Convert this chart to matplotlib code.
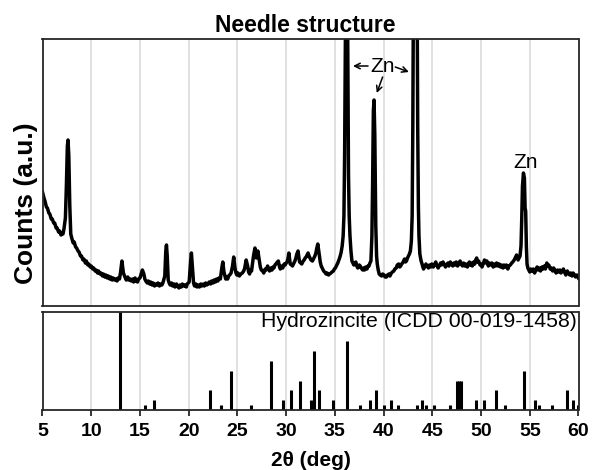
#!/usr/bin/env python3
"""plot.py -- XRD pattern of the needle structure with hydrozincite reference sticks."""

import matplotlib
matplotlib.use("Agg")
import matplotlib.pyplot as plt

plt.rcParams["font.family"] = ["Liberation Sans", "DejaVu Sans"]

# measured pattern (2theta in deg, counts in arbitrary units)
two_theta = [
    5.0, 5.15, 5.25, 5.4, 5.5, 5.65, 5.75, 5.9, 6.0, 6.15,
    6.25, 6.4, 6.5, 6.65, 6.75, 6.9, 7.0, 7.1, 7.2, 7.35,
    7.45, 7.55, 7.62, 7.7, 7.8, 7.9, 8.0, 8.15, 8.25, 8.4,
    8.5, 8.65, 8.75, 8.9, 9.0, 9.15, 9.25, 9.4, 9.5, 9.65,
    9.75, 9.9, 10.0, 10.15, 10.25, 10.4, 10.5, 10.65, 10.75, 10.9,
    11.0, 11.15, 11.25, 11.4, 11.5, 11.65, 11.75, 11.9, 12.0, 12.15,
    12.25, 12.4, 12.5, 12.65, 12.75, 12.9, 13.0, 13.15, 13.3, 13.5,
    13.6, 13.75, 13.85, 14.0, 14.1, 14.25, 14.35, 14.5, 14.6, 14.75,
    14.85, 15.0, 15.25, 15.4, 15.5, 15.6, 15.75, 15.85, 16.0, 16.1,
    16.25, 16.35, 16.5, 16.6, 16.75, 16.85, 17.0, 17.1, 17.25, 17.35,
    17.55, 17.65, 17.72, 17.8, 17.9, 18.0, 18.1, 18.25, 18.35, 18.5,
    18.6, 18.75, 18.85, 19.0, 19.1, 19.25, 19.35, 19.5, 19.6, 19.75,
    19.85, 20.05, 20.2, 20.28, 20.38, 20.5, 20.6, 20.75, 20.85, 21.0,
    21.1, 21.25, 21.35, 21.5, 21.6, 21.75, 21.85, 22.0, 22.1, 22.25,
    22.35, 22.5, 22.6, 22.75, 22.85, 23.0, 23.1, 23.25, 23.4, 23.5,
    23.62, 23.8, 23.9, 24.0, 24.1, 24.2, 24.35, 24.5, 24.62, 24.75,
    24.85, 24.95, 25.05, 25.2, 25.35, 25.5, 25.65, 25.75, 25.9, 26.05,
    26.15, 26.25, 26.35, 26.45, 26.65, 26.8, 26.95, 27.1, 27.25, 27.35,
    27.45, 27.6, 27.7, 27.85, 27.95, 28.1, 28.2, 28.3, 28.45, 28.55,
    28.65, 28.75, 28.85, 28.95, 29.1, 29.2, 29.3, 29.4, 29.55, 29.65,
    29.8, 29.9, 30.0, 30.1, 30.2, 30.28, 30.36, 30.42, 30.55, 30.65,
    30.8, 30.9, 31.0, 31.1, 31.22, 31.3, 31.38, 31.5, 31.6, 31.75,
    31.85, 31.95, 32.05, 32.15, 32.25, 32.35, 32.45, 32.55, 32.7, 32.85,
    32.95, 33.05, 33.15, 33.25, 33.33, 33.4, 33.5, 33.6, 33.7, 33.85,
    33.95, 34.1, 34.2, 34.35, 34.45, 34.6, 34.7, 34.85, 34.95, 35.05,
    35.15, 35.3, 35.45, 35.55, 35.65, 35.75, 35.85, 35.93, 36.0, 36.1,
    36.2, 36.3, 36.4, 36.47, 36.55, 36.65, 36.75, 36.85, 36.95, 37.05,
    37.15, 37.25, 37.35, 37.5, 37.6, 37.7, 37.85, 37.95, 38.05, 38.15,
    38.3, 38.4, 38.5, 38.6, 38.7, 38.8, 38.87, 38.95, 39.02, 39.1,
    39.2, 39.28, 39.35, 39.45, 39.55, 39.65, 39.8, 39.9, 40.05, 40.15,
    40.3, 40.4, 40.55, 40.65, 40.8, 40.9, 41.05, 41.15, 41.3, 41.4,
    41.55, 41.65, 41.75, 41.85, 41.95, 42.05, 42.15, 42.25, 42.35, 42.45,
    42.55, 42.65, 42.75, 42.85, 42.93, 43.0, 43.1, 43.2, 43.3, 43.4,
    43.5, 43.57, 43.63, 43.72, 43.85, 43.95, 44.0, 44.1, 44.2, 44.35,
    44.45, 44.6, 44.7, 44.85, 44.95, 45.1, 45.2, 45.35, 45.45, 45.6,
    45.7, 45.85, 45.95, 46.1, 46.2, 46.35, 46.45, 46.6, 46.7, 46.85,
    46.95, 47.1, 47.2, 47.35, 47.45, 47.6, 47.7, 47.85, 47.95, 48.1,
    48.2, 48.35, 48.45, 48.6, 48.7, 48.8, 48.9, 49.0, 49.1, 49.25,
    49.35, 49.45, 49.55, 49.65, 49.75, 49.9, 50.0, 50.1, 50.25, 50.35,
    50.5, 50.6, 50.75, 50.85, 51.0, 51.1, 51.25, 51.35, 51.5, 51.6,
    51.75, 51.85, 52.0, 52.1, 52.25, 52.35, 52.5, 52.6, 52.75, 52.85,
    53.0, 53.15, 53.25, 53.4, 53.5, 53.65, 53.8, 53.9, 54.0, 54.1,
    54.17, 54.25, 54.35, 54.45, 54.52, 54.58, 54.65, 54.72, 54.8, 54.9,
    55.0, 55.1, 55.25, 55.35, 55.5, 55.6, 55.75, 55.85, 56.0, 56.1,
    56.25, 56.35, 56.5, 56.6, 56.75, 56.85, 56.95, 57.1, 57.2, 57.35,
    57.45, 57.6, 57.7, 57.85, 57.95, 58.1, 58.2, 58.35, 58.45, 58.6,
    58.7, 58.85, 58.95, 59.1, 59.2, 59.35, 59.45, 59.6, 59.7, 59.85,
    60.0,
]
counts = [
    114, 108, 105, 99, 98, 93, 92, 87, 87, 83,
    83, 78, 78, 74, 75, 71, 73, 72, 77, 88,
    120, 160, 166, 150, 100, 72, 68, 63, 64, 59,
    58, 55, 54, 50, 50, 46, 47, 43, 45, 41,
    42, 39, 40, 37, 38, 35, 36, 33, 35, 32,
    33, 30, 32, 29, 31, 28, 30, 27, 29, 26,
    28, 26, 27, 25, 28, 27, 33, 45, 33, 28,
    26, 29, 26, 27, 25, 27, 24, 28, 25, 24,
    27, 28, 36, 32, 27, 25, 23, 25, 22, 24,
    21, 23, 20, 22, 21, 23, 20, 22, 21, 23,
    30, 55, 61, 50, 26, 23, 21, 23, 20, 22,
    19, 22, 20, 18, 21, 19, 22, 20, 21, 19,
    22, 24, 45, 53, 40, 23, 20, 22, 19, 21,
    19, 22, 20, 22, 20, 23, 21, 22, 24, 22,
    25, 23, 26, 24, 27, 25, 28, 27, 38, 44,
    34, 27, 29, 27, 30, 31, 33, 40, 49, 38,
    33, 31, 33, 30, 32, 33, 35, 38, 46, 40,
    34, 32, 36, 35, 50, 58, 48, 55, 45, 39,
    36, 35, 33, 37, 36, 40, 37, 35, 38, 36,
    39, 38, 41, 42, 44, 45, 40, 37, 40, 38,
    42, 41, 43, 44, 48, 53, 47, 42, 41, 40,
    43, 45, 48, 52, 55, 49, 44, 43, 42, 45,
    46, 48, 49, 51, 53, 50, 48, 46, 45, 48,
    50, 53, 58, 62, 56, 50, 44, 40, 38, 35,
    34, 32, 33, 31, 32, 33, 34, 35, 37, 38,
    40, 43, 47, 50, 54, 60, 70, 90, 150, 300,
    420, 300, 130, 90, 70, 55, 45, 43, 41, 43,
    44, 40, 38, 41, 40, 38, 36, 38, 36, 39,
    37, 40, 40, 43, 45, 70, 120, 195, 206, 170,
    80, 50, 42, 36, 32, 31, 30, 32, 31, 29,
    29, 31, 32, 30, 33, 34, 35, 37, 38, 41,
    42, 39, 40, 42, 43, 45, 47, 44, 45, 48,
    50, 52, 55, 65, 90, 180, 400, 650, 650, 400,
    180, 100, 70, 52, 45, 42, 40, 37, 39, 42,
    40, 38, 41, 39, 42, 39, 41, 44, 41, 38,
    40, 43, 41, 44, 42, 39, 41, 43, 40, 44,
    42, 40, 43, 41, 44, 40, 42, 45, 42, 40,
    43, 40, 42, 39, 42, 44, 41, 43, 40, 44,
    42, 46, 48, 44, 45, 41, 42, 39, 43, 46,
    43, 45, 40, 43, 41, 43, 39, 42, 40, 43,
    40, 42, 39, 41, 38, 41, 39, 41, 37, 40,
    41, 43, 44, 46, 48, 51, 46, 48, 50, 60,
    85, 120, 133, 128, 98, 95, 60, 42, 38, 36,
    34, 37, 35, 37, 33, 36, 39, 36, 38, 35,
    39, 37, 40, 37, 43, 40, 41, 37, 38, 35,
    38, 35, 33, 36, 34, 36, 33, 35, 37, 33,
    31, 35, 33, 31, 33, 30, 33, 31, 29, 31,
    28,
]
assert len(two_theta) == len(counts)

# hydrozincite reference (ICDD 00-019-1458), relative intensity
ref_pos = [
    13.0, 15.5, 16.4, 22.2, 23.3, 24.3, 26.4, 28.4, 29.7, 30.5,
    31.4, 32.6, 32.9, 33.35, 34.8, 36.27, 37.6, 38.6, 39.2, 40.0,
    40.8, 41.5, 43.4, 43.9, 44.4, 45.2, 46.8, 47.5, 47.7, 47.9,
    49.5, 50.35, 51.55, 52.5, 54.4, 55.55, 55.95, 57.3, 58.8, 59.4,
    59.9,
]
ref_int = [
    100, 5, 10, 20, 5, 40, 5, 50, 10, 20,
    30, 10, 60, 20, 10, 70, 5, 10, 20, 5,
    10, 5, 5, 10, 5, 5, 5, 30, 30, 30,
    10, 10, 20, 5, 40, 10, 5, 5, 20, 10,
    5,
]

x_ticks = [5, 10, 15, 20, 25, 30, 35, 40, 45, 50, 55, 60]

C_LINE = "black"
C_GRID = "#d9d9d9"
C_SPINE = "#262626"

W, H = 593, 470
fig = plt.figure(figsize=(W / 100, H / 100), dpi=100)
ax_top = fig.add_axes([42.5 / W, 1 - 306 / H, 536 / W, 267 / H])
ax_bot = fig.add_axes([42.5 / W, 1 - 410 / H, 536 / W, 98 / H])

for ax in (ax_top, ax_bot):
    ax.set_xlim(5, 60)
    ax.set_xticks(x_ticks)
    for xg in x_ticks[1:-1]:
        ax.axvline(xg, color=C_GRID, lw=1.1, zorder=0)
    ax.set_yticks([])
    for sp in ax.spines.values():
        sp.set_color(C_SPINE)
        sp.set_linewidth(1.3)

# top panel: pattern
ax_top.plot(two_theta, counts, color=C_LINE, lw=2.5, solid_joinstyle="round")
ax_top.set_ylim(0, 267)
ax_top.tick_params(axis="x", length=0, labelbottom=False)

arrow = dict(arrowstyle="->", color=C_LINE, lw=1.1, shrinkA=0, shrinkB=0)
ax_top.text(39.94, 234, "Zn", ha="center", va="baseline", fontsize=15)
ax_top.annotate("", xy=(36.86, 240), xytext=(38.4, 240), arrowprops=arrow)
ax_top.annotate("", xy=(42.6, 234), xytext=(41.2, 239), arrowprops=arrow)
ax_top.annotate("", xy=(39.3, 213), xytext=(39.9, 229), arrowprops=arrow)
ax_top.text(54.55, 138, "Zn", ha="center", va="baseline", fontsize=15)

# bottom panel: reference sticks
ax_bot.vlines(ref_pos, 0, ref_int, color=C_LINE, lw=2.2)
ax_bot.set_ylim(0, 100)
ax_bot.tick_params(axis="x", direction="out", length=4, width=1.3,
                   color=C_SPINE, labelsize=14, pad=5)
for lbl in ax_bot.get_xticklabels():
    lbl.set_fontweight("bold")
ax_bot.text(0.997, 0.85, "Hydrozincite (ICDD 00-019-1458)", transform=ax_bot.transAxes,
            ha="right", va="baseline", fontsize=15.3)

fig.text(305 / W, 1 - 31.5 / H, "Needle structure", ha="center", va="baseline",
         fontsize=16.5, fontweight="bold")
fig.text(26 / W, 1 - 203 / H, "Counts (a.u.)", ha="center", va="center",
         rotation=90, fontsize=19, fontweight="bold")
fig.text(311 / W, 1 - 466.5 / H, "2θ (deg)", ha="center", va="baseline",
         fontsize=15, fontweight="bold")

fig.savefig("out.png", dpi=100)
plt.close(fig)
